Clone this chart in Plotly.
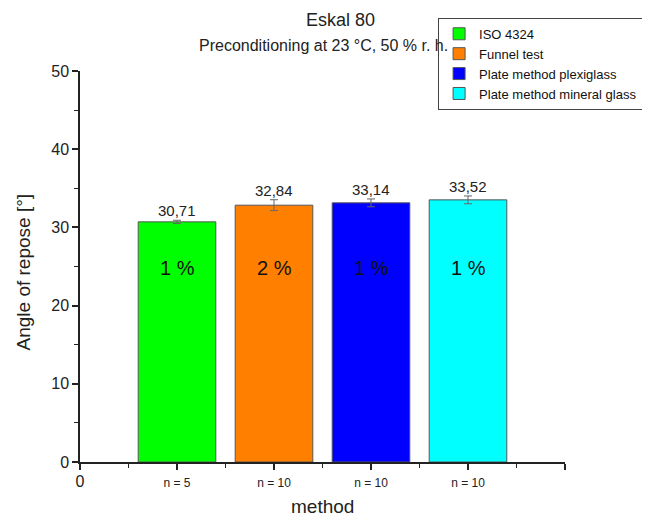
import plotly.graph_objects as go

methods = ["ISO 4324", "Funnel test", "Plate method plexiglass", "Plate method mineral glass"]
positions = [1, 2, 3, 4]
values = [30.71, 32.84, 33.14, 33.52]
errors = [0.2, 0.7, 0.5, 0.5]
colors = ["#00ff00", "#ff8000", "#0000ff", "#00ffff"]
cv_labels = ["1 %", "2 %", "1 %", "1 %"]
cv_y = 24.8
n_labels = ["n = 5", "n = 10", "n = 10", "n = 10"]
value_labels = ["30,71", "32,84", "33,14", "33,52"]

font_family = "Liberation Sans, Arial, sans-serif"

fig = go.Figure()
for m, x, v, e, c in zip(methods, positions, values, errors, colors):
    fig.add_trace(go.Bar(
        x=[x], y=[v], name=m, width=0.8,
        marker=dict(color=c, line=dict(color="#555555", width=1)),
        error_y=dict(type="data", array=[e], color="#666666", thickness=1, width=4),
    ))

for x, v, e, t in zip(positions, values, errors, value_labels):
    fig.add_annotation(x=x, y=v + e, text=t, showarrow=False, yanchor="bottom",
                       yshift=-1, font=dict(size=15, color="#222222"))
for x, t in zip(positions, cv_labels):
    fig.add_annotation(x=x, y=cv_y, text=t, showarrow=False,
                       font=dict(size=20, color="#111111"))

fig.add_annotation(xref="paper", yref="paper", x=0.538, y=1.0, yshift=51, yanchor="middle",
                   text="Eskal 80", showarrow=False, font=dict(size=18, color="#222222"))
fig.add_annotation(xref="paper", yref="paper", x=0.503, y=1.0, yshift=26, yanchor="middle",
                   text="Preconditioning at 23 °C, 50 % r. h.", showarrow=False,
                   font=dict(size=16, color="#222222"))
fig.add_annotation(xref="paper", yref="paper", x=-0.1165, y=0.486, textangle=-90,
                   xanchor="center", yanchor="middle",
                   text="Angle of repose [°]", showarrow=False,
                   font=dict(size=19, color="#222222"))
fig.add_annotation(xref="paper", yref="paper", x=0.499, y=-0.114,
                   xanchor="center", yanchor="middle",
                   text="method", showarrow=False,
                   font=dict(size=19, color="#222222"))

tickvals = [0, 1, 2, 3, 4, 5]
ticktext = ['<span style="font-size:16px">0</span>'] + n_labels + [""]

fig.update_layout(
    width=650, height=519,
    margin=dict(l=72, r=93, t=63, b=65, autoexpand=False),
    plot_bgcolor="white", paper_bgcolor="white",
    font=dict(family=font_family, color="#222222"),
    showlegend=True,
    legend=dict(x=1.161, y=1.136, xanchor="right", yanchor="top",
                bordercolor="#444444", borderwidth=1, bgcolor="white",
                font=dict(size=13, color="#111111"), tracegroupgap=0,
                traceorder="normal"),
    xaxis=dict(range=[0, 5], tickvals=tickvals, ticktext=ticktext, automargin=False,
               showgrid=False, zeroline=False, showline=True, linecolor="#222222",
               linewidth=1.5, ticks="outside", ticklen=6, tickwidth=1.5, tickcolor="#222222",
               tickfont=dict(size=12, color="#222222"), ticklabelstandoff=3,
               minor=dict(dtick=0.5, tick0=0, ticks="outside", ticklen=4, tickwidth=1.2, tickcolor="#222222")),
    yaxis=dict(range=[0, 50], dtick=10, showgrid=False, zeroline=False, showline=True,
               automargin=False,
               linecolor="#222222", linewidth=1.5, ticks="outside", ticklen=6, tickwidth=1.5,
               tickcolor="#222222", tickfont=dict(size=16, color="#222222"),
               minor=dict(dtick=5, ticks="outside", ticklen=4, tickwidth=1.2, tickcolor="#222222")),
)

fig.write_html("out.html")
